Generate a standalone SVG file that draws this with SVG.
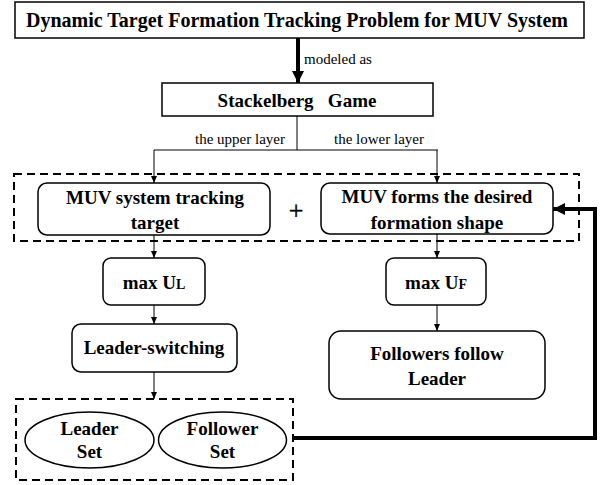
<svg xmlns="http://www.w3.org/2000/svg" width="600" height="485" viewBox="0 0 600 485">
<defs>
<marker id="ah" markerWidth="8" markerHeight="8" refX="7" refY="4" orient="auto" markerUnits="userSpaceOnUse"><path d="M0,1 L7,4 L0,7 Z" fill="#000"/></marker>
<marker id="ahb" markerWidth="14" markerHeight="14" refX="12" refY="7" orient="auto" markerUnits="userSpaceOnUse"><path d="M0,1 L12,7 L0,13 Z" fill="#000"/></marker>
<style>
text{font-family:"Liberation Serif","Times New Roman",Times,serif;fill:#000}
.b{font-weight:bold;text-anchor:middle;font-size:19px}
.r{font-size:15px}
.box{fill:#fff;stroke:#000;stroke-width:1.5}
.dash{fill:none;stroke:#000;stroke-width:2;stroke-dasharray:8,5}
.ln{fill:none;stroke:#000;stroke-width:1}
.thick{fill:none;stroke:#000;stroke-width:4}
</style>
</defs>
<rect width="600" height="485" fill="#fff"/>
<g id="connectors">
<line class="thick" x1="298" y1="38" x2="298" y2="83" marker-end="url(#ahb)"/>
<text class="r" x="304" y="64">modeled as</text>
<polyline class="ln" points="297,116 297,150"/>
<polyline class="ln" points="154,150 438,150"/>
<line class="ln" x1="154" y1="150" x2="154" y2="183" marker-end="url(#ah)"/>
<line class="ln" x1="437" y1="150" x2="437" y2="183" marker-end="url(#ah)"/>
<text class="r" x="195" y="144">the upper layer</text>
<text class="r" x="334" y="144">the lower layer</text>
<line class="ln" x1="154" y1="235" x2="154" y2="258" marker-end="url(#ah)"/>
<line class="ln" x1="154" y1="305" x2="154" y2="324" marker-end="url(#ah)"/>
<line class="ln" x1="154" y1="372" x2="154" y2="399" marker-end="url(#ah)"/>
<line class="ln" x1="437" y1="234" x2="437" y2="258" marker-end="url(#ah)"/>
<line class="ln" x1="437" y1="305" x2="437" y2="331" marker-end="url(#ah)"/>
<polyline class="thick" points="293,438 595,438 595,209 553,209" marker-end="url(#ahb)"/>
</g>
<g id="title"><rect class="box" x="15" y="2" width="569" height="36" stroke-width="2"/><text class="b" x="297" y="27" style="font-size:20px">Dynamic Target Formation Tracking Problem for MUV System</text></g>
<g id="stackelberg"><rect class="box" x="162" y="83" width="271" height="33" stroke-width="2"/><text class="b" x="297" y="107" style="white-space:pre">Stackelberg   Game</text></g>
<g id="group1"><rect class="dash" x="14" y="174" width="565" height="67"/></g>
<g id="tracking"><rect class="box" x="38" y="183" width="232" height="52" rx="9"/><text class="b" x="155" y="204">MUV system tracking</text><text class="b" x="155" y="229">target</text></g>
<g id="plus"><text x="296" y="219" text-anchor="middle" style="font-size:26px;fill:#000;stroke:#000;stroke-width:0.4">+</text></g>
<g id="formation"><rect class="box" x="321" y="183" width="232" height="51" rx="9"/><text class="b" x="437" y="203">MUV forms the desired</text><text class="b" x="437" y="229">formation shape</text></g>
<g id="maxUL"><rect class="box" x="103" y="258" width="102" height="47" rx="8"/><text class="b" x="154" y="289">max U<tspan style="font-size:14px">L</tspan></text></g>
<g id="maxUF"><rect class="box" x="386" y="258" width="100" height="47" rx="8"/><text class="b" x="436" y="289">max U<tspan style="font-size:14px">F</tspan></text></g>
<g id="leaderswitching"><rect class="box" x="72" y="324" width="165" height="48" rx="9"/><text class="b" x="154" y="354">Leader-switching</text></g>
<g id="followers"><rect class="box" x="329" y="331" width="216" height="68" rx="12"/><text class="b" x="437" y="360">Followers follow</text><text class="b" x="437" y="385">Leader</text></g>
<g id="group2"><rect class="dash" x="16" y="399" width="277" height="81"/></g>
<g id="leaderset"><ellipse class="box" cx="89.5" cy="440" rx="64.5" ry="28"/><text class="b" x="89.5" y="435">Leader</text><text class="b" x="89.5" y="458">Set</text></g>
<g id="followerset"><ellipse class="box" cx="222.5" cy="440" rx="64" ry="28"/><text class="b" x="222.5" y="435">Follower</text><text class="b" x="222.5" y="458">Set</text></g>
</svg>
